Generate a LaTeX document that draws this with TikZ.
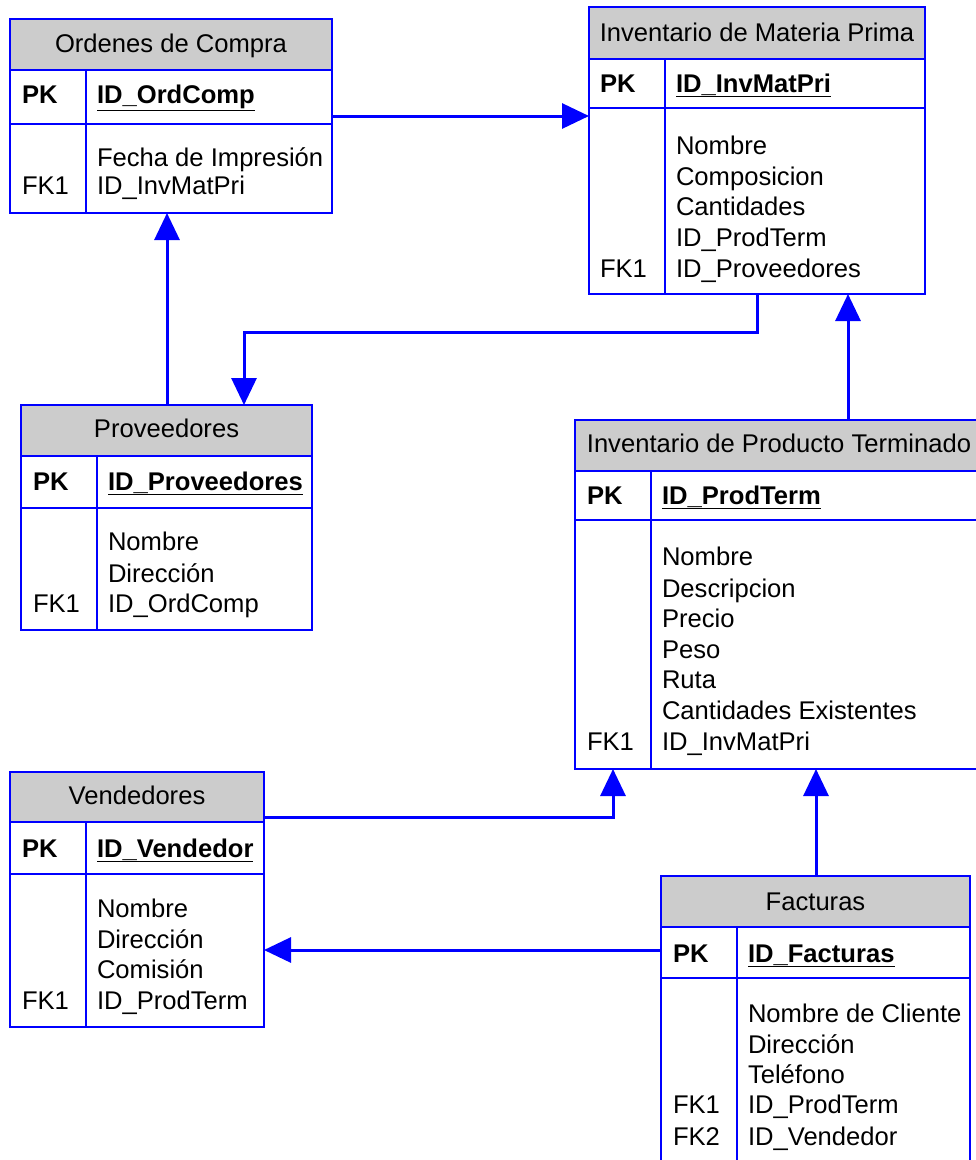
\documentclass[tikz,border=0pt]{standalone}
\usepackage{fontspec}
\setmainfont{Liberation Sans}
\usetikzlibrary{arrows.meta}
\definecolor{erblue}{RGB}{0,0,255}
\definecolor{ergray}{RGB}{204,204,204}
\tikzset{
  frame/.style={draw=erblue, line width=2pt, inner sep=0pt, outer sep=0pt, fill=none},
  headfill/.style={fill=ergray, draw=none, inner sep=0pt, outer sep=0pt},
  rule/.style={draw=erblue, line width=2pt},
  txt/.style={inner sep=0pt, outer sep=0pt, font=\fontsize{25.6}{30}\selectfont},
  htxt/.style={txt, anchor=base},
  fld/.style={txt, anchor=base west},
  link/.style={draw=erblue, line width=3pt, -{Triangle[length=27pt,width=25pt]}},
}
% #1 name, #2 left, #3 top, #4 right, #5 header bottom, #6 key row bottom, #7 bottom, #8 divider x
\newcommand\ertable[8]{%
  \pgfmathsetmacro\ertW{#4-#2}%
  \pgfmathsetmacro\ertHH{#5-#3}%
  \pgfmathsetmacro\ertH{#7-#3}%
  \node[headfill, minimum width=\ertW pt, minimum height=\ertHH pt, anchor=north west] (#1-head) at (#2,#3) {};
  \node[frame, minimum width=\ertW pt, minimum height=\ertH pt, anchor=north west] (#1) at (#2,#3) {};
  \draw[rule] (#2,#5) -- (#4,#5);
  \draw[rule] (#2,#6) -- (#4,#6);
  \draw[rule] (#8,#5) -- (#8,#7);
}
\begin{document}
\begin{tikzpicture}[x=1pt, y=-1pt]
\clip (0,0) rectangle (976,1160);
\fill[white] (0,0) rectangle (976,1160);

% Ordenes de Compra
\ertable{oc}{10}{19}{332}{70}{124}{213}{86}
\node[htxt] (oc-t) at (171,52) {Ordenes de Compra};
\node[fld] (oc-pk) at (22,103) {\textbf{PK}};
\node[fld] (oc-id) at (97,103) {\underline{\textbf{ID\_OrdComp}}};
\node[fld] (oc-f1) at (97,166) {Fecha de Impresión};
\node[fld] (oc-f2) at (97,194) {ID\_InvMatPri};
\node[fld] (oc-k1) at (22,194) {FK1};

% Inventario de Materia Prima
\ertable{imp}{589}{7}{925}{59}{108}{294}{665}
\node[htxt] (imp-t) at (757,41) {Inventario de Materia Prima};
\node[fld] (imp-pk) at (600,92) {\textbf{PK}};
\node[fld] (imp-id) at (676,92) {\underline{\textbf{ID\_InvMatPri}}};
\node[fld] (imp-f1) at (676,154) {Nombre};
\node[fld] (imp-f2) at (676,185) {Composicion};
\node[fld] (imp-f3) at (676,215) {Cantidades};
\node[fld] (imp-f4) at (676,246) {ID\_ProdTerm};
\node[fld] (imp-f5) at (676,277) {ID\_Proveedores};
\node[fld] (imp-k1) at (600,277) {FK1};

% Proveedores
\ertable{prov}{21}{405}{312}{456}{508}{630}{97}
\node[htxt] (prov-t) at (166.5,437) {Proveedores};
\node[fld] (prov-pk) at (33,490) {\textbf{PK}};
\node[fld] (prov-id) at (108,490) {\underline{\textbf{ID\_Proveedores}}};
\node[fld] (prov-f1) at (108,550) {Nombre};
\node[fld] (prov-f2) at (108,582) {Dirección};
\node[fld] (prov-f3) at (108,612) {ID\_OrdComp};
\node[fld] (prov-k1) at (33,612) {FK1};

% Inventario de Producto Terminado
\ertable{ipt}{575}{420}{980}{471}{520}{769}{651}
\node[htxt] (ipt-t) at (779,452) {Inventario de Producto Terminado};
\node[fld] (ipt-pk) at (587,504) {\textbf{PK}};
\node[fld] (ipt-id) at (662,504) {\underline{\textbf{ID\_ProdTerm}}};
\node[fld] (ipt-f1) at (662,565) {Nombre};
\node[fld] (ipt-f2) at (662,597) {Descripcion};
\node[fld] (ipt-f3) at (662,627) {Precio};
\node[fld] (ipt-f4) at (662,658) {Peso};
\node[fld] (ipt-f5) at (662,688) {Ruta};
\node[fld] (ipt-f6) at (662,719) {Cantidades Existentes};
\node[fld] (ipt-f7) at (662,750) {ID\_InvMatPri};
\node[fld] (ipt-k1) at (587,750) {FK1};

% Vendedores
\ertable{ven}{10}{772}{264}{822}{874}{1027}{86}
\node[htxt] (ven-t) at (137,804) {Vendedores};
\node[fld] (ven-pk) at (22,857) {\textbf{PK}};
\node[fld] (ven-id) at (97,857) {\underline{\textbf{ID\_Vendedor}}};
\node[fld] (ven-f1) at (97,917) {Nombre};
\node[fld] (ven-f2) at (97,948) {Dirección};
\node[fld] (ven-f3) at (97,978) {Comisión};
\node[fld] (ven-f4) at (97,1009) {ID\_ProdTerm};
\node[fld] (ven-k1) at (22,1009) {FK1};

% Facturas
\ertable{fac}{661}{876}{970}{927}{978}{1175}{737}
\node[htxt] (fac-t) at (815.5,910) {Facturas};
\node[fld] (fac-pk) at (673,962) {\textbf{PK}};
\node[fld] (fac-id) at (748,962) {\underline{\textbf{ID\_Facturas}}};
\node[fld] (fac-f1) at (748,1022) {Nombre de Cliente};
\node[fld] (fac-f2) at (748,1053) {Dirección};
\node[fld] (fac-f3) at (748,1083) {Teléfono};
\node[fld] (fac-f4) at (748,1113) {ID\_ProdTerm};
\node[fld] (fac-f5) at (748,1145) {ID\_Vendedor};
\node[fld] (fac-k1) at (673,1113) {FK1};
\node[fld] (fac-k2) at (673,1145) {FK2};

% Relationships
\draw[link] (oc.east |- 0,116) -- (imp.west |- 0,116);
\draw[link] (prov.north -| 167,0) -- (oc.south -| 167,0);
\draw[link] (imp.south -| 757,0) -- (757,332) -- (244,332) -- (prov.north -| 244,0);
\draw[link] (ipt.north -| 848,0) -- (imp.south -| 848,0);
\draw[link] (ven.east |- 0,817) -- (613,817) -- (ipt.south -| 613,0);
\draw[link] (fac.north -| 816,0) -- (ipt.south -| 816,0);
\draw[link] (fac.west |- 0,950) -- (ven.east |- 0,950);
\end{tikzpicture}
\end{document}
